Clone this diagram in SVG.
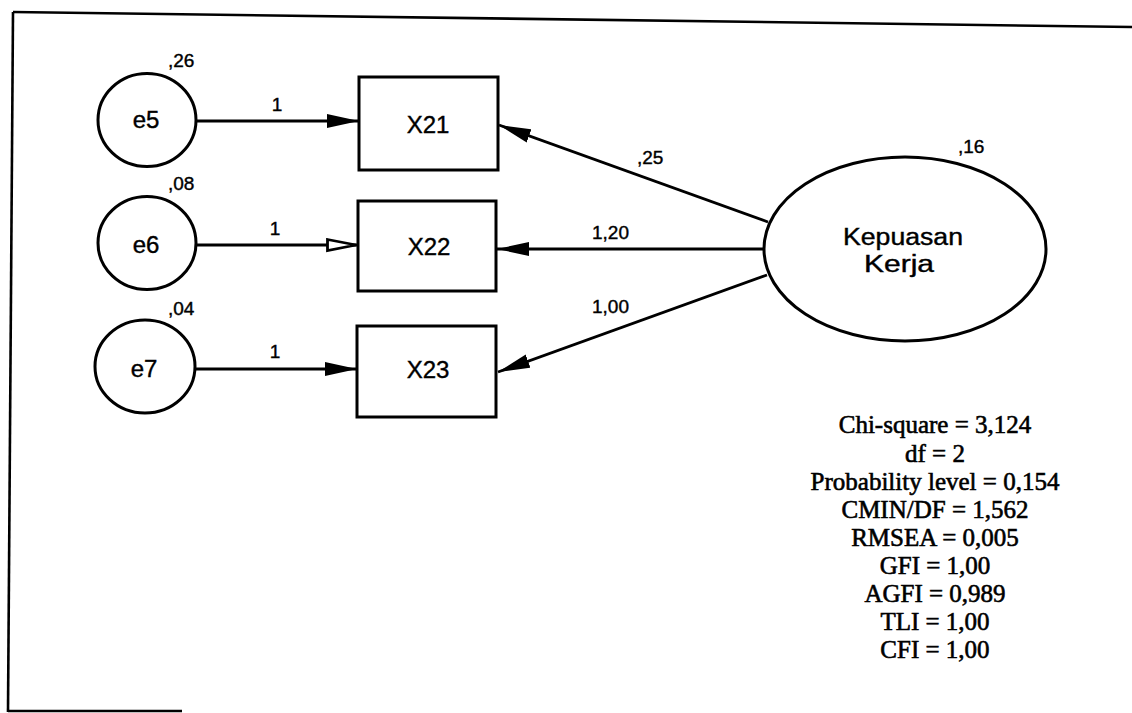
<svg xmlns="http://www.w3.org/2000/svg" width="1132" height="713" viewBox="0 0 1132 713">
<style>
.shape{fill:#fff;stroke:#000;stroke-width:3}
.lbl{font-family:"Liberation Sans",Arial,sans-serif;fill:#000;stroke:#000;stroke-width:0.4}
.node{font-size:24px;text-anchor:middle}
.num{font-size:19px}
.edge{stroke:#000;stroke-width:2.8;fill:none}
.stats{font-family:"Liberation Serif","Times New Roman",serif;font-size:25px;text-anchor:middle;fill:#000;stroke:#000;stroke-width:0.6}
.frame{stroke:#000;stroke-width:2.6;fill:none}
</style>
<defs>
<marker id="arr" viewBox="0 0 32 15" refX="32" refY="7.5" markerWidth="32" markerHeight="15" markerUnits="userSpaceOnUse" orient="auto">
<path d="M0,0.5 L32,7.5 L0,14.5 z" fill="#000"/>
</marker>
<marker id="arrh" viewBox="0 0 32 15" refX="32" refY="7.5" markerWidth="32" markerHeight="15" markerUnits="userSpaceOnUse" orient="auto">
<path d="M1.5,2 L30,7.5 L1.5,13 z" fill="#fff" stroke="#000" stroke-width="2.8"/>
</marker>
</defs>
<g id="frame">
<line class="frame" x1="13" y1="12" x2="1132" y2="27"/>
<line class="frame" x1="13" y1="12" x2="8" y2="712"/>
<line class="frame" x1="8" y1="711" x2="182" y2="711"/>
</g>
<g id="connectors">
<line class="edge" x1="196" y1="121" x2="359" y2="121" marker-end="url(#arr)"/>
<line class="edge" x1="196" y1="245" x2="358" y2="245" marker-end="url(#arrh)"/>
<line class="edge" x1="194" y1="369" x2="357" y2="369" marker-end="url(#arr)"/>
<line class="edge" x1="768" y1="222" x2="499" y2="125" marker-end="url(#arr)"/>
<line class="edge" x1="764" y1="249" x2="497" y2="249" marker-end="url(#arr)"/>
<line class="edge" x1="767" y1="275" x2="498" y2="372" marker-end="url(#arr)"/>
<text class="lbl num" x="277" y="111" text-anchor="middle">1</text>
<text class="lbl num" x="275" y="235" text-anchor="middle">1</text>
<text class="lbl num" x="275" y="358" text-anchor="middle">1</text>
<text class="lbl num" x="637" y="164">,25</text>
<text class="lbl num" x="592" y="239">1,20</text>
<text class="lbl num" x="592" y="313">1,00</text>
</g>
<g id="e5">
<ellipse class="shape" cx="147" cy="120" rx="49" ry="46.5"/>
<text class="lbl node" x="146" y="128">e5</text>
<text class="lbl num" x="168" y="67">,26</text>
</g>
<g id="e6">
<ellipse class="shape" cx="147" cy="243" rx="49" ry="46.5"/>
<text class="lbl node" x="146" y="253">e6</text>
<text class="lbl num" x="168" y="190">,08</text>
</g>
<g id="e7">
<ellipse class="shape" cx="145" cy="366.5" rx="50" ry="46.5"/>
<text class="lbl node" x="144" y="377">e7</text>
<text class="lbl num" x="168" y="315">,04</text>
</g>
<g id="X21">
<rect class="shape" x="359" y="77" width="139" height="93"/>
<text class="lbl node" x="428" y="133">X21</text>
</g>
<g id="X22">
<rect class="shape" x="358" y="201" width="138" height="90"/>
<text class="lbl node" x="429" y="255">X22</text>
</g>
<g id="X23">
<rect class="shape" x="357" y="326" width="139" height="91"/>
<text class="lbl node" x="428" y="378">X23</text>
</g>
<g id="KepuasanKerja">
<ellipse class="shape" cx="905" cy="249" rx="141" ry="92"/>
<text class="lbl" x="903" y="245" font-size="23" text-anchor="middle" textLength="120" lengthAdjust="spacingAndGlyphs">Kepuasan</text>
<text class="lbl" x="899" y="272" font-size="23" text-anchor="middle" textLength="70" lengthAdjust="spacingAndGlyphs">Kerja</text>
<text class="lbl num" x="958" y="153">,16</text>
</g>
<g id="stats">
<text class="stats" x="935" y="433">Chi-square = 3,124</text>
<text class="stats" x="935" y="462">df = 2</text>
<text class="stats" x="935" y="490">Probability level = 0,154</text>
<text class="stats" x="935" y="518">CMIN/DF = 1,562</text>
<text class="stats" x="935" y="546">RMSEA = 0,005</text>
<text class="stats" x="935" y="574">GFI = 1,00</text>
<text class="stats" x="935" y="602">AGFI = 0,989</text>
<text class="stats" x="935" y="630">TLI = 1,00</text>
<text class="stats" x="935" y="658">CFI = 1,00</text>
</g>
</svg>
